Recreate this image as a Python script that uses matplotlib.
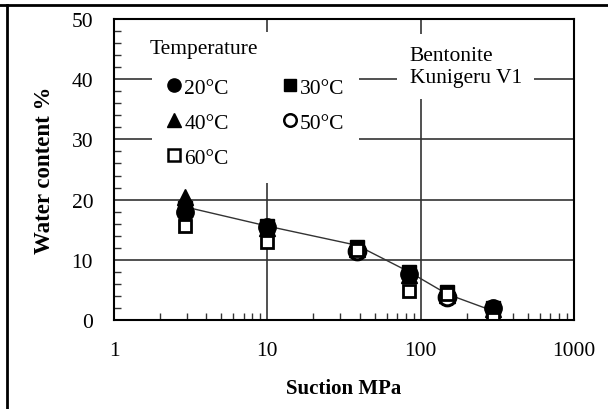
import matplotlib
matplotlib.use("Agg")
import matplotlib.pyplot as plt
from matplotlib.lines import Line2D
from matplotlib.ticker import MultipleLocator, LogLocator, NullFormatter, FixedLocator

plt.rcParams['font.family'] = ['Liberation Serif', 'DejaVu Serif']

nan = float('nan')

# suction (MPa) and water content (%)
suction = [2.9, 10, 38.5, 84, 149, 297]
w20 = [17.9, 15.4, 11.5, 7.6, 3.9, 2.0]
w30 = [18.6, 15.6, 12.2, 8.0, 4.6, 2.0]
w40 = [20.4, 15.3, 11.8, 7.4, 4.2, 1.9]
w50 = [nan, nan, 11.4, nan, 3.8, nan]
w60 = [15.6, 13.0, 11.6, 4.8, 4.4, 0.2]
fit = [18.8, 15.6, 12.4, 8.0, 4.3, 1.5]

fig = plt.figure(figsize=(6.08, 4.10), dpi=100)
ax = fig.add_axes([114/608, 1 - 321/410, 460/608, 301/410])

ax.plot(suction, fit, color='#333333', lw=1.0, zorder=3)
ax.plot(suction, w20, 'o', color='black', ms=12.5, zorder=4)
ax.plot(suction, w30, 's', color='black', ms=10, zorder=4)
ax.plot(suction, w40, '^', color='black', ms=12, zorder=4)
ax.plot(suction, w50, 'o', mfc='white', mec='black', mew=2.2, ms=12, zorder=5)
ax.plot(suction, w60, 's', mfc='white', mec='black', mew=2, ms=9, zorder=6)

ax.set_xscale('log')
ax.set_xlim(1, 1000)
ax.set_ylim(0, 50)
ax.yaxis.set_major_locator(MultipleLocator(10))
ax.yaxis.set_minor_locator(MultipleLocator(2))
ax.xaxis.set_major_locator(FixedLocator([1, 10, 100, 1000]))
ax.xaxis.set_minor_locator(LogLocator(base=10, subs=range(2, 10)))
ax.xaxis.set_minor_formatter(NullFormatter())
ax.set_xticklabels(['1', '10', '100', '1000'])

ax.grid(True, which='major', color='#333333', lw=1.2, zorder=1)
ax.tick_params(which='both', direction='in', labelsize=15.5)
ax.tick_params(which='major', length=0, pad=15)
ax.tick_params(which='minor', length=5, width=1, color='#333333')
ax.tick_params(axis='y', which='major', pad=15)
for s in ax.spines.values():
    s.set_linewidth(1.5)
    s.set_zorder(7)

ax.set_xlabel('Suction MPa', fontsize=15, fontweight='bold', labelpad=13)
ax.set_ylabel('Water content %', fontsize=16.5, fontweight='bold', labelpad=12)

handles = [
    Line2D([], [], ls='none', marker='o', color='black', ms=9.5),
    Line2D([], [], ls='none', marker='^', color='black', ms=9.5),
    Line2D([], [], ls='none', marker='s', mfc='white', mec='black', mew=1.8, ms=8.5),
    Line2D([], [], ls='none', marker='s', color='black', ms=9),
    Line2D([], [], ls='none', marker='o', mfc='white', mec='black', mew=1.8, ms=9),
]
labels = ['20\u00b0C', '40\u00b0C', '60\u00b0C', '30\u00b0C', '50\u00b0C']
# blank title only reserves room at the top of the white legend box
leg = ax.legend(handles, labels, ncol=2, loc='upper left', title=' ',
                title_fontsize=12, bbox_to_anchor=(0.0826, 0.957), frameon=True,
                fancybox=False, edgecolor='none', facecolor='white', framealpha=1,
                fontsize=15.5, handlelength=0.65, handletextpad=0.15,
                columnspacing=2.5, labelspacing=0.69, borderpad=0.7, borderaxespad=0)
leg.set_zorder(8)

ax.text(0.077, 0.935, 'Temperature', transform=ax.transAxes, fontsize=15.5,
        va='top', ha='left', zorder=9)

ax.text(0.643, 0.91, 'Bentonite\nKunigeru V1', transform=ax.transAxes,
        fontsize=15.5, va='top', ha='left', linespacing=1.2, zorder=8,
        bbox=dict(facecolor='white', edgecolor='none', pad=9))

# outer frame lines (top and left only)
fig.add_artist(Line2D([0, 1], [1 - 6/410, 1 - 6/410], color='black', lw=2,
                      transform=fig.transFigure))
fig.add_artist(Line2D([7/608, 7/608], [0, 1 - 6/410], color='black', lw=2,
                      transform=fig.transFigure))

fig.savefig('out.png', dpi=100)
